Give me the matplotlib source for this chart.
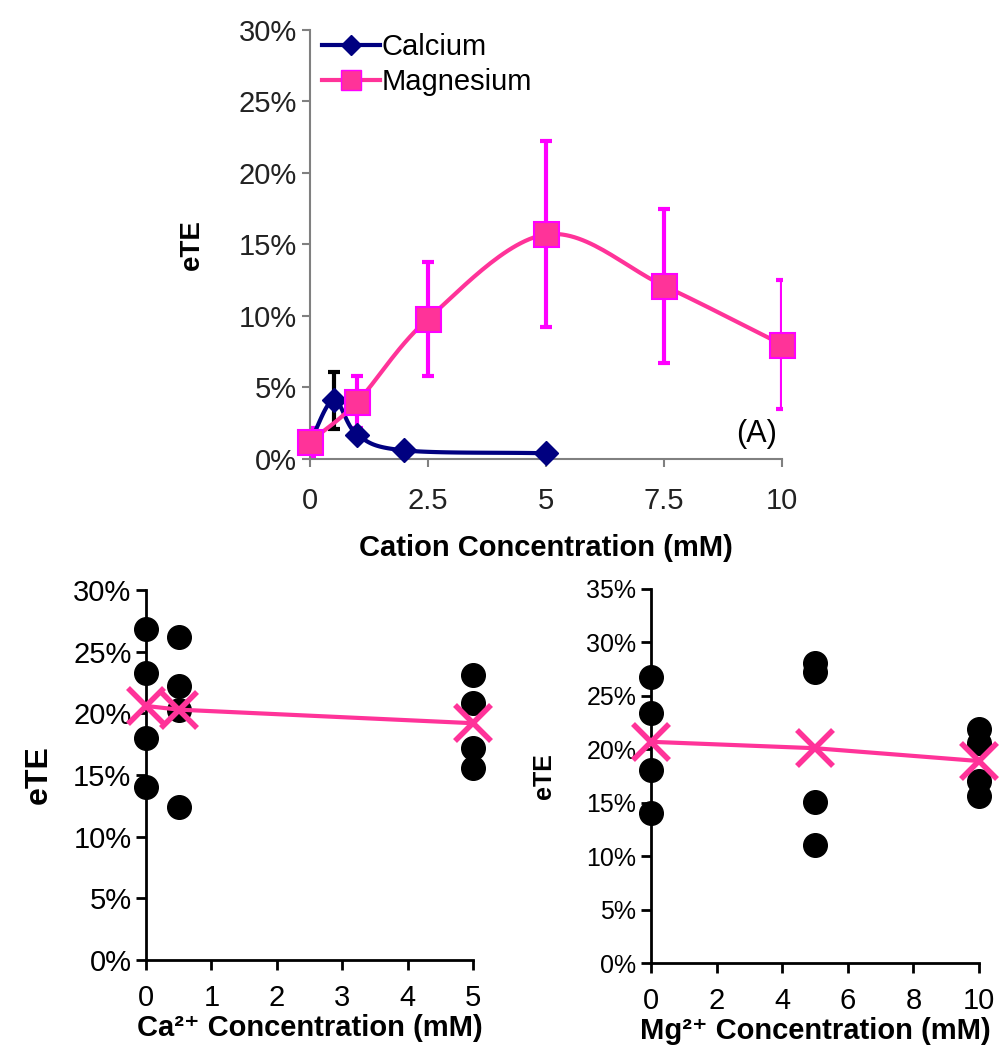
import numpy as np
import matplotlib
matplotlib.use("Agg")
import matplotlib.pyplot as plt
from matplotlib.ticker import PercentFormatter

plt.rcParams['font.family'] = ['Liberation Sans', 'DejaVu Sans']

# --- panel A data ---
ca_x = [0, 0.5, 1, 2, 5]
ca_y = [0.012, 0.041, 0.017, 0.006, 0.004]
ca_err = [0.0, 0.020, 0.003, 0.0, 0.0]

mg_x = [0, 1, 2.5, 5, 7.5, 10]
mg_y = [0.012, 0.040, 0.098, 0.157, 0.121, 0.080]
mg_err = [0.010, 0.018, 0.040, 0.065, 0.054, 0.045]

# --- panel B (Ca2+) data ---
ca_pts_x = [0, 0, 0, 0, 0.5, 0.5, 0.5, 0.5, 5, 5, 5, 5]
ca_pts_y = [0.268, 0.233, 0.180, 0.140, 0.262, 0.222, 0.203, 0.124, 0.231, 0.208, 0.172, 0.156]
ca_mean_x = [0, 0.5, 5]
ca_mean_y = [0.206, 0.203, 0.192]

# --- panel C (Mg2+) data ---
mg_pts_x = [0, 0, 0, 0, 5, 5, 5, 5, 10, 10, 10, 10]
mg_pts_y = [0.268, 0.234, 0.181, 0.140, 0.281, 0.272, 0.151, 0.110, 0.219, 0.206, 0.170, 0.156]
mg_mean_x = [0, 5, 10]
mg_mean_y = [0.207, 0.201, 0.189]

PINK = "#ff3399"
MAG = "#ff00ff"
NAVY = "#000080"


def smooth(x, y, n=30):
    # Catmull-Rom curve through the points (like Excel's smoothed line)
    x = np.asarray(x, float)
    y = np.asarray(y, float)
    px = np.concatenate([[2 * x[0] - x[1]], x, [2 * x[-1] - x[-2]]])
    py = np.concatenate([[2 * y[0] - y[1]], y, [2 * y[-1] - y[-2]]])
    t = np.linspace(0, 1, n)
    xs, ys = [], []
    for i in range(1, len(px) - 2):
        for p, out in ((px, xs), (py, ys)):
            p0, p1, p2, p3 = p[i - 1], p[i], p[i + 1], p[i + 2]
            out.extend(0.5 * ((2 * p1) + (-p0 + p2) * t
                              + (2 * p0 - 5 * p1 + 4 * p2 - p3) * t ** 2
                              + (-p0 + 3 * p1 - 3 * p2 + p3) * t ** 3))
    return np.array(xs), np.array(ys)


fig = plt.figure(figsize=(10.05, 10.51), dpi=100)

# ---------- top panel ----------
ax = fig.add_axes([0.3085, 0.5633, 0.4697, 0.4082])
ax.errorbar(ca_x, ca_y, yerr=ca_err, fmt="none", ecolor="black", elinewidth=3, capsize=4, capthick=3, zorder=2)
ax.errorbar(mg_x, mg_y, yerr=mg_err, fmt="none", ecolor=MAG, elinewidth=3, capsize=4, capthick=3, zorder=2)
sx, sy = smooth(ca_x, ca_y)
ax.plot(sx, sy, color=NAVY, lw=3, zorder=3)
ax.plot(ca_x, ca_y, ls="none", marker="D", ms=12, color=NAVY, zorder=4, clip_on=False)
sx, sy = smooth(mg_x, mg_y)
ax.plot(sx, sy, color=PINK, lw=3, zorder=3)
ax.plot(mg_x, mg_y, ls="none", marker="s", ms=18, mfc=PINK, mec=MAG, mew=1.5, zorder=5, clip_on=False)
h1, = ax.plot([], [], color=NAVY, lw=3, marker="D", ms=10)
h2, = ax.plot([], [], color=PINK, lw=3, marker="s", ms=15, mfc=PINK, mec=MAG)
ax.legend([h1, h2], ["Calcium", "Magnesium"], loc="upper left", frameon=False, fontsize=21,
          handlelength=2.0, handletextpad=0.05, borderaxespad=0.0, labelspacing=0.25,
          bbox_to_anchor=(0.0, 1.02))
ax.set_xlim(0, 10)
ax.set_ylim(0, 0.30)
ax.set_xticks([0, 2.5, 5, 7.5, 10])
ax.set_xticklabels(["0", "2.5", "5", "7.5", "10"])
ax.set_yticks(np.arange(0, 0.31, 0.05))
ax.yaxis.set_major_formatter(PercentFormatter(1.0, decimals=0))
for s in ["top", "right"]:
    ax.spines[s].set_visible(False)
for s in ["left", "bottom"]:
    ax.spines[s].set_color("#808080")
    ax.spines[s].set_linewidth(1.5)
ax.tick_params(direction="out", length=6, width=1.5, color="#808080", labelsize=21, labelcolor="#222222")
ax.tick_params(axis="x", pad=14)
ax.set_xlabel("Cation Concentration (mM)", fontsize=21, fontweight="bold", labelpad=14)
ax.set_ylabel("eTE", fontsize=20, fontweight="bold", labelpad=24)
ax.text(9.45, 0.007, "(A)", fontsize=22, ha="center", va="bottom")


def scatter_panel(rect, px, py, mx, my, xticks, ymax):
    a = fig.add_axes(rect)
    a.plot(px, py, ls="none", marker="o", ms=17, color="black", zorder=3, clip_on=False)
    a.plot(mx, my, color=PINK, lw=3, marker="x", ms=26, mew=4, zorder=4, clip_on=False)
    a.set_xlim(xticks[0], xticks[-1])
    a.set_ylim(0, ymax)
    a.set_xticks(xticks)
    a.set_yticks(np.arange(0, ymax + 0.001, 0.05))
    a.yaxis.set_major_formatter(PercentFormatter(1.0, decimals=0))
    for s in ["top", "right"]:
        a.spines[s].set_visible(False)
    for s in ["left", "bottom"]:
        a.spines[s].set_linewidth(2)
    a.tick_params(direction="out", length=7, width=2, labelsize=21)
    a.tick_params(axis="x", pad=10)
    return a


ax2 = scatter_panel([0.1453, 0.0866, 0.3254, 0.352], ca_pts_x, ca_pts_y, ca_mean_x, ca_mean_y,
                    [0, 1, 2, 3, 4, 5], 0.30)
ax2.set_xlabel("Ca²⁺ Concentration (mM)", fontsize=21, fontweight="bold", labelpad=2)
ax2.set_ylabel("eTE", fontsize=23, fontweight="bold", labelpad=14)

ax3 = scatter_panel([0.6478, 0.0837, 0.3264, 0.3559], mg_pts_x, mg_pts_y, mg_mean_x, mg_mean_y,
                    [0, 2, 4, 6, 8, 10], 0.35)
ax3.set_xlabel("Mg²⁺ Concentration (mM)", fontsize=21, fontweight="bold", labelpad=2)
ax3.set_ylabel("eTE", fontsize=18, fontweight="bold", labelpad=22)
ax3.tick_params(axis="y", labelsize=18)

fig.savefig("out.png", dpi=100)
